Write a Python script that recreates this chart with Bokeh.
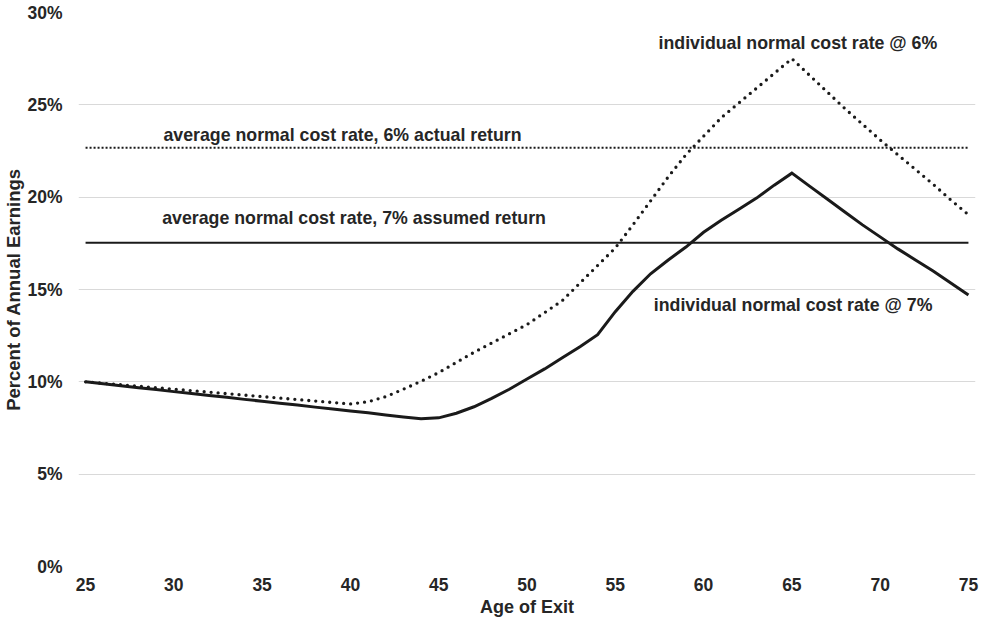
from bokeh.plotting import figure
from bokeh.models import Label, FixedTicker, PrintfTickFormatter, Range1d
from bokeh.embed import file_html
from bokeh.resources import INLINE

# ---------------- data ----------------
ages = list(range(25, 76))

# individual normal cost rate @ 7% (percent of annual earnings)
rate_7 = [10.0, 9.9, 9.79, 9.68, 9.58, 9.47, 9.37, 9.26, 9.16, 9.05,
          8.95, 8.84, 8.74, 8.63, 8.53, 8.42, 8.32, 8.21, 8.1, 8.0,
          8.05, 8.3, 8.65, 9.1, 9.6, 10.15, 10.7, 11.3, 11.9, 12.55,
          13.8, 14.9, 15.85, 16.6, 17.3, 18.1, 18.75, 19.35, 19.95, 20.65,
          21.3, 20.6, 19.9, 19.2, 18.5, 17.85, 17.2, 16.6, 16.0, 15.35,
          14.7]

# individual normal cost rate @ 6%
rate_6 = [10.0, 9.92, 9.84, 9.76, 9.68, 9.6, 9.52, 9.44, 9.36, 9.28,
          9.2, 9.12, 9.04, 8.96, 8.88, 8.8, 8.92, 9.2, 9.6, 10.03,
          10.5, 11.05, 11.6, 12.1, 12.6, 13.1, 13.75, 14.4, 15.35, 16.3,
          17.25, 18.5, 19.8, 21.1, 22.3, 23.3, 24.3, 25.1, 25.9, 26.7,
          27.5, 26.6, 25.7, 24.8, 23.95, 23.1, 22.3, 21.5, 20.7, 19.85,
          19.05]

avg_6_actual = 22.67
avg_7_assumed = 17.53

x_ticks = list(range(25, 76, 5))
y_ticks = list(range(0, 31, 5))

label_texts = ["average normal cost rate, 6% actual return",
               "average normal cost rate, 7% assumed return",
               "individual normal cost rate @ 6%",
               "individual normal cost rate @ 7%"]

# ---------------- styles ----------------
FONT = "Liberation Sans"
TXT = "#262626"
INK = "#1a1a1a"

p = figure(width=983, height=626, output_backend="svg", toolbar_location=None,
           x_range=Range1d(24.6, 75.4), y_range=Range1d(0, 30),
           min_border_left=78, min_border_right=8, min_border_top=12,
           min_border_bottom=60)

p.outline_line_color = None
p.background_fill_color = "white"
p.xgrid.visible = False
p.ygrid.grid_line_color = "#d9d9d9"
p.ygrid.grid_line_width = 1.2

for ax in (p.xaxis[0], p.yaxis[0]):
    ax.axis_line_color = None
    ax.major_tick_line_color = None
    ax.minor_tick_line_color = None
    ax.major_tick_out = 0
    ax.major_tick_in = 0
    ax.major_label_text_font = FONT
    ax.major_label_text_font_style = "bold"
    ax.major_label_text_font_size = "17.5px"
    ax.major_label_text_color = TXT
    ax.axis_label_text_font = FONT
    ax.axis_label_text_font_style = "bold"
    ax.axis_label_text_color = TXT

p.xaxis.axis_label_text_font_size = "18px"
p.yaxis.axis_label_text_font_size = "18.5px"
p.xaxis.ticker = FixedTicker(ticks=x_ticks)
p.yaxis.ticker = FixedTicker(ticks=y_ticks)
p.yaxis.formatter = PrintfTickFormatter(format="%d%%")
p.xaxis.axis_label = "Age of Exit"
p.yaxis.axis_label = "Percent of Annual Earnings"
p.xaxis.major_label_standoff = 11
p.xaxis.axis_label_standoff = 3
p.yaxis.major_label_standoff = 16
p.yaxis.axis_label_standoff = 0

# average lines
p.line([ages[0], ages[-1]], [avg_6_actual, avg_6_actual], line_color=INK,
       line_width=2, line_dash="2 2")
p.line([ages[0], ages[-1]], [avg_7_assumed, avg_7_assumed], line_color=INK,
       line_width=2)

# individual curves
p.line(ages, rate_6, line_color=INK, line_width=3.3, line_dash="0 7",
       line_cap="round")
p.line(ages, rate_7, line_color=INK, line_width=3, line_join="miter")

# annotations (data coordinates)
label_pos = [(29.41, 23.34), (29.34, 18.89), (57.45, 28.33), (57.18, 14.14)]
for t, (lx, ly) in zip(label_texts, label_pos):
    p.add_layout(Label(x=lx, y=ly, text=t, text_font=FONT,
                       text_font_style="bold", text_font_size="17.75px",
                       text_color=TXT, text_align="left",
                       text_baseline="alphabetic"))

open("out.html", "w").write(file_html(p, INLINE))
